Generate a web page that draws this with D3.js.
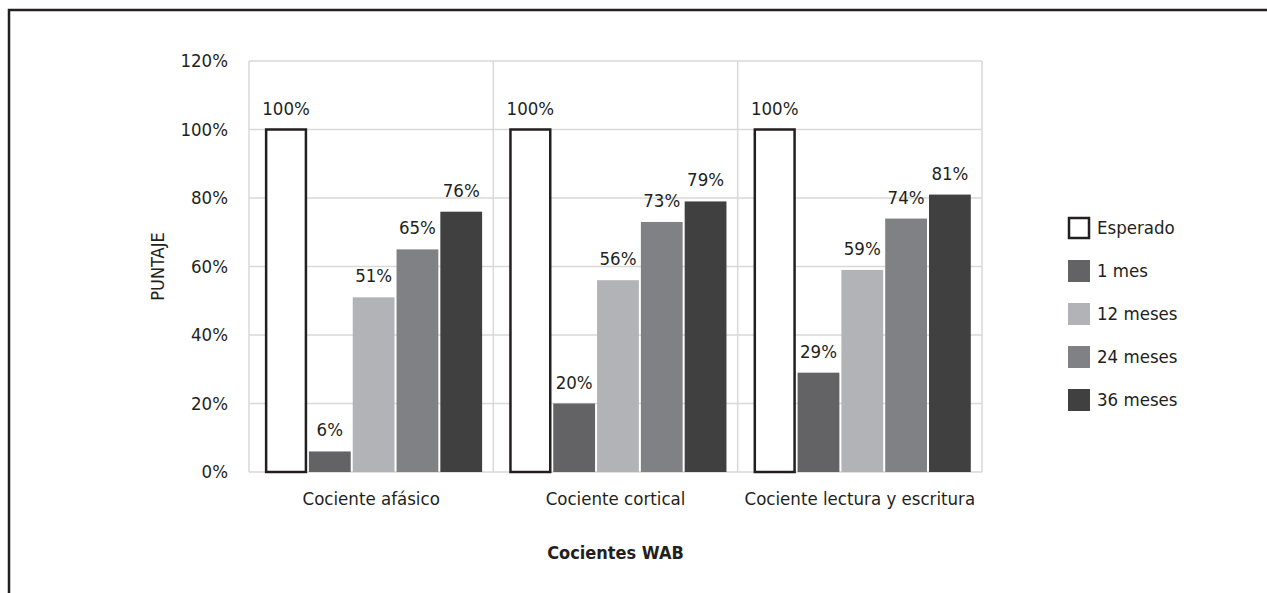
<!DOCTYPE html>
<html>
<head>
<meta charset="utf-8">
<script src="https://cdn.jsdelivr.net/npm/d3@7"></script>
<style>
  html, body { margin: 0; padding: 0; background: #fff; }
  svg { display: block; }
  text { font-family: "Liberation Sans Narrow", "DejaVu Sans Condensed", "Roboto", sans-serif; fill: #231f20; }
</style>
</head>
<body>
<svg id="chart" width="1267" height="593"></svg>
<script>
// Categories, series and values
const categories = ["Cociente afásico", "Cociente cortical", "Cociente lectura y escritura"];
const seriesNames = ["Esperado", "1 mes", "12 meses", "24 meses", "36 meses"];
const seriesColors = ["#ffffff", "#636365", "#b2b3b6", "#808184", "#404041"];
const esperado = [100, 100, 100];
const mes1 = [6, 20, 29];
const mes12 = [51, 56, 59];
const mes24 = [65, 73, 74];
const mes36 = [76, 79, 81];
const yTicks = [0, 20, 40, 60, 80, 100, 120];

const seriesValues = [esperado, mes1, mes12, mes24, mes36];
const FS = 18.5;

const svg = d3.select("#chart");

// Outer frame (open to the right and bottom)
svg.append("path")
  .attr("d", "M9,593 L9,10 L1267,10")
  .attr("fill", "none")
  .attr("stroke", "#231f20")
  .attr("stroke-width", 2.5);

const plot = { left: 249, right: 982, top: 61, bottom: 472 };

const x0 = d3.scaleBand().domain(categories).range([plot.left, plot.right]).paddingInner(0).paddingOuter(0);
const x1 = d3.scaleBand().domain(seriesNames).range([0, x0.bandwidth()])
  .paddingInner(0.046).paddingOuter(0.312).align(0.59);
const y = d3.scaleLinear().domain([0, 120]).range([plot.bottom, plot.top]);

// Horizontal gridlines
const grid = svg.append("g");
grid.selectAll("line.h").data(yTicks).join("line")
  .attr("x1", plot.left).attr("x2", plot.right)
  .attr("y1", d => y(d)).attr("y2", d => y(d))
  .attr("stroke", "#d9d9d9").attr("stroke-width", 1.5);

// Vertical category separators
const vlines = [plot.left].concat(categories.map(c => x0(c) + x0.bandwidth()));
grid.selectAll("line.v").data(vlines).join("line")
  .attr("x1", d => d).attr("x2", d => d)
  .attr("y1", plot.top).attr("y2", plot.bottom)
  .attr("stroke", "#d9d9d9").attr("stroke-width", 1.5);

// Y axis tick labels
const yAxis = d3.axisLeft(y).tickValues(yTicks).tickFormat(d => d + "%").tickSize(0).tickPadding(21);
const yG = svg.append("g").attr("transform", `translate(${plot.left},0)`).call(yAxis);
yG.select(".domain").remove();
yG.selectAll("text").attr("font-size", FS).style("font-family", null);

// X axis category labels
const xAxis = d3.axisBottom(x0).tickSize(0).tickPadding(20);
const xG = svg.append("g").attr("transform", `translate(0,${plot.bottom})`).call(xAxis);
xG.select(".domain").remove();
xG.selectAll("text").attr("font-size", FS).style("font-family", null);

// Bars
const rows = [];
categories.forEach((c, ci) => {
  seriesNames.forEach((s, si) => {
    rows.push({ cat: c, series: s, si, value: seriesValues[si][ci] });
  });
});

const bars = svg.append("g");
bars.selectAll("rect").data(rows).join("rect")
  .attr("x", d => x0(d.cat) + x1(d.series) + (d.si === 0 ? 1 : 0))
  .attr("width", d => x1.bandwidth() - (d.si === 0 ? 2 : 0))
  .attr("y", d => y(d.value))
  .attr("height", d => y(0) - y(d.value))
  .attr("fill", d => seriesColors[d.si])
  .attr("stroke", d => d.si === 0 ? "#231f20" : "none")
  .attr("stroke-width", 2.5);

// Value labels
bars.selectAll("text").data(rows).join("text")
  .attr("x", d => x0(d.cat) + x1(d.series) + x1.bandwidth() / 2)
  .attr("y", d => y(d.value) - 15)
  .attr("text-anchor", "middle")
  .attr("font-size", FS)
  .text(d => d.value + "%");

// Axis titles
svg.append("text")
  .attr("transform", `translate(164,${(plot.top + plot.bottom) / 2}) rotate(-90)`)
  .attr("text-anchor", "middle")
  .attr("font-size", 18)
  .text("PUNTAJE");

svg.append("text")
  .attr("x", (plot.left + plot.right) / 2)
  .attr("y", 559)
  .attr("text-anchor", "middle")
  .attr("font-size", 18)
  .attr("font-weight", "bold")
  .text("Cocientes WAB");

// Legend
const legend = svg.append("g").attr("transform", "translate(1068,217)");
const item = legend.selectAll("g").data(seriesNames).join("g")
  .attr("transform", (d, i) => `translate(0,${i * 43})`);
item.append("rect")
  .attr("x", (d, i) => i === 0 ? 1 : 0)
  .attr("y", (d, i) => i === 0 ? 1 : 0)
  .attr("width", (d, i) => i === 0 ? 20 : 22)
  .attr("height", (d, i) => i === 0 ? 20 : 22)
  .attr("fill", (d, i) => seriesColors[i])
  .attr("stroke", (d, i) => i === 0 ? "#231f20" : "none")
  .attr("stroke-width", 2.5);
item.append("text")
  .attr("x", 29)
  .attr("y", 11)
  .attr("dy", "0.35em")
  .attr("font-size", FS)
  .text(d => d);
</script>
</body>
</html>
